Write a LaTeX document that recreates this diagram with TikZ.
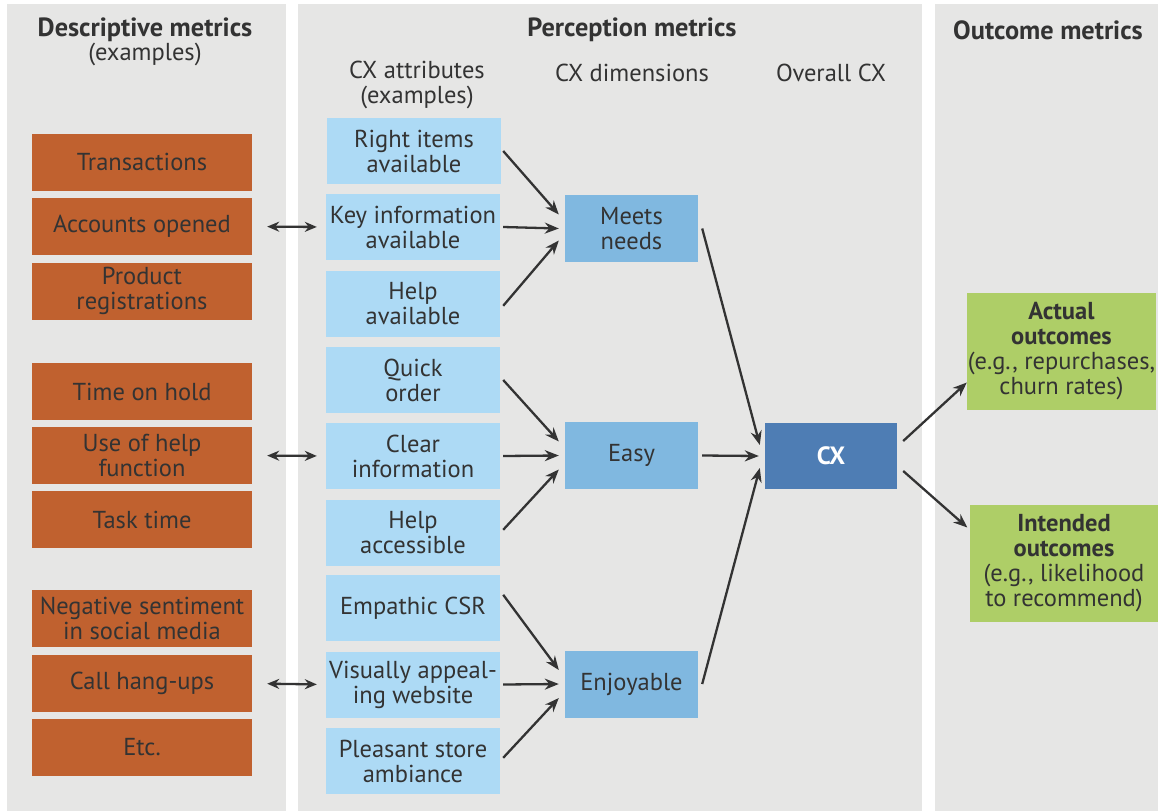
\documentclass[tikz,border=0pt]{standalone}
\usepackage{fontspec}
\setmainfont{PT Sans}
\usetikzlibrary{arrows.meta}
\definecolor{panel}{HTML}{E6E6E5}
\definecolor{orng}{HTML}{C0612F}
\definecolor{lblue}{HTML}{ADDAF5}
\definecolor{mblue}{HTML}{80B8E0}
\definecolor{dblue}{HTML}{4E7DB4}
\definecolor{grn}{HTML}{AECE67}
\definecolor{txt}{HTML}{333333}
\tikzset{
  base/.style={inner sep=0pt, align=center, text=txt, font=\fontsize{24.5}{25}\selectfont},
  obox/.style={base, fill=orng, minimum width=220, minimum height=57},
  abox/.style={base, fill=lblue, minimum width=174, minimum height=66},
  dbox/.style={base, fill=mblue, minimum width=133, minimum height=67},
  cxbox/.style={base, fill=dblue, text=white, minimum width=132, minimum height=66, font=\fontsize{25}{25}\selectfont\bfseries},
  gbox/.style={base, fill=grn, minimum width=189, minimum height=117},
  hdr/.style={base, font=\fontsize{26.3}{25}\selectfont\bfseries},
  sub/.style={base},
  arr/.style={draw=txt, line width=2.3pt, -{Stealth[length=14pt,width=11pt]}},
  darr/.style={draw=txt, line width=2.3pt, {Stealth[length=12pt,width=10pt]}-{Stealth[length=12pt,width=10pt]}},
}
\begin{document}
\begin{tikzpicture}[x=1pt,y=-1pt]
\useasboundingbox (0,0) rectangle (1158,811);
\fill[white] (0,0) rectangle (1158,811);
\fill[panel] (7,4) rectangle (286,811);
\fill[panel] (298,4) rectangle (922,811);
\fill[panel] (935,4) rectangle (1158,811);

% headers
\node[hdr] (h1) at (145,30) {Descriptive metrics};
\node[sub] (h1b) at (145,54) {(examples)};
\node[hdr] (h2) at (632,30) {Perception metrics};
\node[hdr] (h3) at (1048,30) {Outcome metrics};
\node[sub] (s1) at (417,85) {CX attributes\\(examples)};
\node[sub] (s2) at (632,73) {CX dimensions};
\node[sub] (s3) at (831,73) {Overall CX};

% descriptive
\node[obox] (o1) at (142,162) {Transactions};
\node[obox] (o2) at (142,226.5) {Accounts opened};
\node[obox] (o3) at (142,291) {Product\\registrations};
\node[obox] (o4) at (142,391.5) {Time on hold};
\node[obox] (o5) at (142,455.5) {Use of help\\function};
\node[obox] (o6) at (142,519.5) {Task time};
\node[obox] (o7) at (142,618) {Negative sentiment\\in social media};
\node[obox] (o8) at (142,683.5) {Call hang-ups};
\node[obox] (o9) at (142,747.5) {Etc.};

% attributes
\node[abox] (a1) at (414,151) {Right items\\available};
\node[abox] (a2) at (413,227) {Key information\\available};
\node[abox] (a3) at (413,304) {Help\\available};
\node[abox] (a4) at (413,380) {Quick\\order};
\node[abox] (a5) at (413,456) {Clear\\information};
\node[abox] (a6) at (413,533) {Help\\accessible};
\node[abox] (a7) at (413,608) {Empathic CSR};
\node[abox] (a8) at (413,684.5) {Visually appeal-\\ing website};
\node[abox] (a9) at (413,761) {Pleasant store\\ambiance};

% dimensions
\node[dbox] (d1) at (631.5,228.5) {Meets\\needs};
\node[dbox] (d2) at (631.5,455.5) {Easy};
\node[dbox] (d3) at (631.5,684) {Enjoyable};

% overall
\node[cxbox] (cx) at (831,456) {CX};

% outcomes
\node[gbox] (g1) at (1061.5,351.5) {\textbf{Actual}\\\textbf{outcomes}\\(e.g., repurchases,\\churn rates)};
\node[gbox] (g2) at (1064,563.5) {\textbf{Intended}\\\textbf{outcomes}\\(e.g., likelihood\\to recommend)};

% double arrows
\draw[darr, shorten <=15pt, shorten >=9pt] (o2.east) -- (a2.west);
\draw[darr, shorten <=15pt, shorten >=9pt] (o5.east) -- (a5.west);
\draw[darr, shorten <=15pt, shorten >=9pt] (o8.east) -- (a8.west);

% attributes -> dimensions
\draw[arr] ([xshift=2pt]a1.east) -- ([xshift=-6pt,yshift=14pt]d1.west);
\draw[arr] ([xshift=3pt]a2.east) -- ([xshift=-6pt]d1.west);
\draw[arr] ([xshift=3pt,yshift=-35pt]a3.north east) -- ([xshift=-6pt,yshift=-12pt]d1.west);
\draw[arr] ([xshift=3pt]a4.east) -- ([xshift=-6pt,yshift=14pt]d2.west);
\draw[arr] ([xshift=3pt]a5.east) -- ([xshift=-6pt]d2.west);
\draw[arr] ([xshift=3pt,yshift=-30pt]a6.north east) -- ([xshift=-6pt,yshift=-14pt]d2.west);
\draw[arr] ([xshift=3pt,yshift=-20pt]a7.north east) -- ([xshift=-6pt,yshift=14pt]d3.west);
\draw[arr] ([xshift=3pt]a8.east) -- ([xshift=-6pt]d3.west);
\draw[arr] ([xshift=3pt,yshift=-30pt]a9.north east) -- ([xshift=-6pt,yshift=-14pt]d3.west);

% dimensions -> CX
\draw[arr] ([xshift=4pt]d1.east) -- ([xshift=-5pt,yshift=11pt]cx.west);
\draw[arr] ([xshift=4pt]d2.east) -- ([xshift=-6pt]cx.west);
\draw[arr] ([xshift=4pt]d3.east) -- ([xshift=-5pt,yshift=-12pt]cx.west);

% CX -> outcomes
\draw[arr] ([xshift=6pt,yshift=15pt]cx.east) -- ([yshift=-31pt]g1.west);
\draw[arr] ([xshift=6pt,yshift=-15pt]cx.east) -- ([xshift=-2pt,yshift=36pt]g2.west);
\end{tikzpicture}
\end{document}
